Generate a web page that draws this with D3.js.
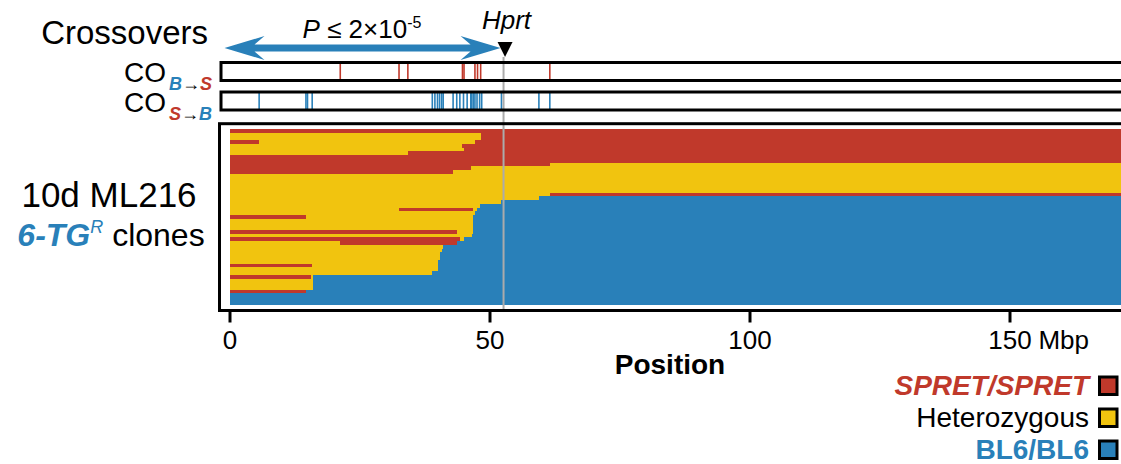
<!DOCTYPE html>
<html>
<head>
<meta charset="utf-8">
<script src="https://cdn.jsdelivr.net/npm/d3@7"></script>
<style>
  html, body { margin: 0; padding: 0; background: #fff; }
  svg { display: block; font-family: "Liberation Sans", Arial, Helvetica, sans-serif; }
</style>
</head>
<body>
<svg id="chart" width="1121" height="464"></svg>
<script>
// Chromosome X, positions in Mbp
const chrLength = 171.5;
const hprtPos = 52.7;
const axisTicks = [0, 50, 100, 150];

// Genotype classes
const genotypeCodes = ["S", "H", "B"];
const genotypeLabels = ["SPRET/SPRET", "Heterozygous", "BL6/BL6"];
const genotypeColors = ["#c0392b", "#f1c40f", "#2980b9"];

// Crossover breakpoints (Mbp)
const crossoversBtoS = [21.3, 32.6, 34.3, 44.8, 45.1, 47.2, 47.7, 48.3, 61.6];
const crossoversStoB = [5.7, 14.7, 15.0, 15.9, 39.0, 39.5, 40.0, 40.4, 40.8, 41.1,
                        43.0, 43.7, 44.3, 45.0, 45.7, 46.4, 46.6, 46.9, 47.2, 47.6,
                        48.1, 48.5, 52.3, 59.5, 61.6];

// One row per clone: genotype code, breakpoint, genotype code, ... (to chromosome end)
const clones = [
  ["S"],
  ["H", 48.3, "S"],
  ["H", 48.3, "S"],
  ["S", 5.6, "H", 47.2, "S"],
  ["H", 44.8, "S"],
  ["H", 45.0, "S"],
  ["H", 34.3, "S"],
  ["S"],
  ["S"],
  ["S", 61.6, "H"],
  ["S", 46.4, "H"],
  ["S", 43.0, "H"],
  ["H"],
  ["H"],
  ["H"],
  ["H"],
  ["H"],
  ["H", 61.6, "S"],
  ["H", 59.5, "B"],
  ["H", 52.3, "B"],
  ["H", 48.1, "B"],
  ["H", 32.6, "S", 46.8, "H", 47.6, "B"],
  ["H", 47.2, "B"],
  ["S", 14.8, "H", 46.9, "B"],
  ["H", 46.9, "B"],
  ["H", 46.9, "B"],
  ["H", 46.9, "B"],
  ["S", 43.7, "H", 46.9, "B"],
  ["H", 46.6, "B"],
  ["S", 44.3, "H", 45.0, "B"],
  ["H", 21.3, "S", 43.7, "B"],
  ["H", 41.1, "B"],
  ["H", 40.8, "B"],
  ["H", 40.4, "B"],
  ["H", 40.4, "B"],
  ["H", 40.0, "B"],
  ["S", 15.9, "H", 40.0, "B"],
  ["H", 40.0, "B"],
  ["H", 39.0, "B"],
  ["S", 15.6, "H", 16.0, "B"],
  ["H", 16.0, "B"],
  ["H", 16.0, "B"],
  ["H", 16.0, "B"],
  ["S", 14.7, "B"],
  ["B"],
  ["B"],
  ["B"]
];

const svg = d3.select("#chart");
const color = d3.scaleOrdinal().domain(genotypeCodes).range(genotypeColors);

const x = d3.scaleLinear().domain([0, 150]).range([229.5, 1009.5]);
const y = d3.scaleBand().domain(d3.range(clones.length)).range([129, 304.7]);

// ---- clone genotype rows ----
const segments = clones.flatMap((row, i) => {
  const out = [];
  let start = 0;
  for (let k = 0; k < row.length; k += 2) {
    const end = k + 1 < row.length ? row[k + 1] : chrLength;
    out.push({ row: i, code: row[k], start, end });
    start = end;
  }
  return out;
});

svg.append("g")
  .attr("shape-rendering", "crispEdges")
  .selectAll("rect")
  .data(segments)
  .join("rect")
  .attr("x", d => x(d.start))
  .attr("width", d => x(d.end) - x(d.start))
  .attr("y", d => y(d.row))
  .attr("height", y.bandwidth() + 0.5)
  .attr("fill", d => color(d.code));

// ---- crossover tracks ----
const tracks = [
  { y0: 62.5, data: crossoversBtoS, col: genotypeColors[0] },
  { y0: 92, data: crossoversStoB, col: genotypeColors[2] }
];
const trackH = 18;
tracks.forEach(t => {
  svg.append("g")
    .selectAll("line")
    .data(t.data)
    .join("line")
    .attr("x1", d => x(d)).attr("x2", d => x(d))
    .attr("y1", t.y0).attr("y2", t.y0 + trackH)
    .attr("stroke", t.col)
    .attr("stroke-width", 1.6);
});

// Hprt marker line
svg.append("line")
  .attr("x1", x(hprtPos)).attr("x2", x(hprtPos))
  .attr("y1", 57).attr("y2", 311)
  .attr("stroke", "#ababab")
  .attr("stroke-width", 2);

tracks.forEach(t => {
  svg.append("rect")
    .attr("x", 221).attr("y", t.y0)
    .attr("width", 1000).attr("height", trackH)
    .attr("fill", "none").attr("stroke", "#000").attr("stroke-width", 3);
});

// clone panel frame
svg.append("rect")
  .attr("x", 219.5).attr("y", 123.7)
  .attr("width", 1000).attr("height", 310.5 - 123.7)
  .attr("fill", "none").attr("stroke", "#000").attr("stroke-width", 3);

// ---- x axis ----
const axis = svg.append("g")
  .attr("transform", "translate(0,310.5)")
  .call(d3.axisBottom(x).tickValues(axisTicks).tickSize(12).tickPadding(8).tickFormat(d3.format("d")));
axis.select(".domain").remove();
axis.selectAll(".tick line").attr("stroke", "#000").attr("stroke-width", 3);
axis.selectAll(".tick text")
  .attr("font-size", 26)
  .attr("font-family", "Liberation Sans, Arial, sans-serif")
  .attr("fill", "#000");
const lastTick = axis.selectAll(".tick text").filter(d => d === 150);
const lastW = lastTick.node().getComputedTextLength();
axis.append("text")
  .attr("x", x(150) + lastW / 2)
  .attr("y", 20)
  .attr("dy", "0.71em")
  .attr("text-anchor", "start")
  .attr("font-family", "Liberation Sans, Arial, sans-serif")
  .attr("font-size", 26)
  .attr("fill", "#000")
  .text("\u00a0Mbp");

svg.append("text")
  .attr("x", 670).attr("y", 374)
  .attr("text-anchor", "middle")
  .attr("font-size", 28).attr("font-weight", "bold")
  .text("Position");

// ---- annotations ----
svg.append("text")
  .attr("x", 208).attr("y", 44)
  .attr("text-anchor", "end")
  .attr("font-size", 33)
  .text("Crossovers");

// double-headed arrow spanning 0 to Hprt
const xl = x(0) - 5, xr = x(hprtPos) - 3, ya = 48;
svg.append("path")
  .attr("d", `M${xl},${ya} L${xl + 40},${ya - 12} L${xl + 30},${ya - 3.5} L${xr - 30},${ya - 3.5}
              L${xr - 40},${ya - 12} L${xr},${ya} L${xr - 40},${ya + 12} L${xr - 30},${ya + 3.5}
              L${xl + 30},${ya + 3.5} L${xl + 40},${ya + 12} Z`)
  .attr("fill", genotypeColors[2]);

const pLab = svg.append("text")
  .attr("x", 362).attr("y", 37.5)
  .attr("text-anchor", "middle")
  .attr("font-size", 26);
pLab.append("tspan").attr("font-style", "italic").text("P");
pLab.append("tspan").text(" \u2264 2\u00d710");
pLab.append("tspan").attr("font-size", 16).attr("dy", -10).text("-5");

svg.append("text")
  .attr("x", x(hprtPos) + 3).attr("y", 29)
  .attr("text-anchor", "middle")
  .attr("font-size", 26).attr("font-style", "italic")
  .text("Hprt");

const tx = x(hprtPos) + 1.5;
svg.append("path")
  .attr("d", `M${tx - 7.5},42 L${tx + 7.5},42 L${tx},57 Z`)
  .attr("fill", "#000");

// track labels
function coLabel(baseY, first, second) {
  svg.append("text")
    .attr("x", 166).attr("y", baseY)
    .attr("text-anchor", "end")
    .attr("font-size", 28)
    .text("CO");
  const sub = svg.append("text")
    .attr("x", 169).attr("y", baseY + 8.5)
    .attr("font-size", 18).attr("font-weight", "bold");
  sub.append("tspan").attr("font-style", "italic").attr("fill", first.c).text(first.t);
  sub.append("tspan").attr("fill", "#000").text("\u2192");
  sub.append("tspan").attr("font-style", "italic").attr("fill", second.c).text(second.t);
}
coLabel(81.5, { t: "B", c: genotypeColors[2] }, { t: "S", c: genotypeColors[0] });
coLabel(111.5, { t: "S", c: genotypeColors[0] }, { t: "B", c: genotypeColors[2] });

svg.append("text")
  .attr("x", 109).attr("y", 207)
  .attr("text-anchor", "middle")
  .attr("font-size", 35)
  .text("10d ML216");

const cl = svg.append("text")
  .attr("x", 111).attr("y", 246)
  .attr("text-anchor", "middle")
  .attr("font-size", 32);
cl.append("tspan").attr("fill", genotypeColors[2]).attr("font-weight", "bold").attr("font-style", "italic").text("6-TG");
cl.append("tspan").attr("fill", genotypeColors[2]).attr("font-style", "italic").attr("font-size", 18).attr("dy", -13).text("R");
cl.append("tspan").attr("dy", 13).text(" clones");

// ---- legend ----
const legendY = [395, 427, 459];
const legendStyle = [
  { fill: genotypeColors[0], weight: "bold", style: "italic" },
  { fill: "#000", weight: "normal", style: "normal" },
  { fill: genotypeColors[2], weight: "bold", style: "normal" }
];
genotypeLabels.forEach((lab, i) => {
  svg.append("rect")
    .attr("x", 1099.5).attr("y", legendY[i] - 18)
    .attr("width", 17.5).attr("height", 17.5)
    .attr("fill", genotypeColors[i])
    .attr("stroke", "#000").attr("stroke-width", 3);
  svg.append("text")
    .attr("x", 1089).attr("y", legendY[i])
    .attr("text-anchor", "end")
    .attr("font-size", 28)
    .attr("font-weight", legendStyle[i].weight)
    .attr("font-style", legendStyle[i].style)
    .attr("fill", legendStyle[i].fill)
    .text(lab);
});
</script>
</body>
</html>
